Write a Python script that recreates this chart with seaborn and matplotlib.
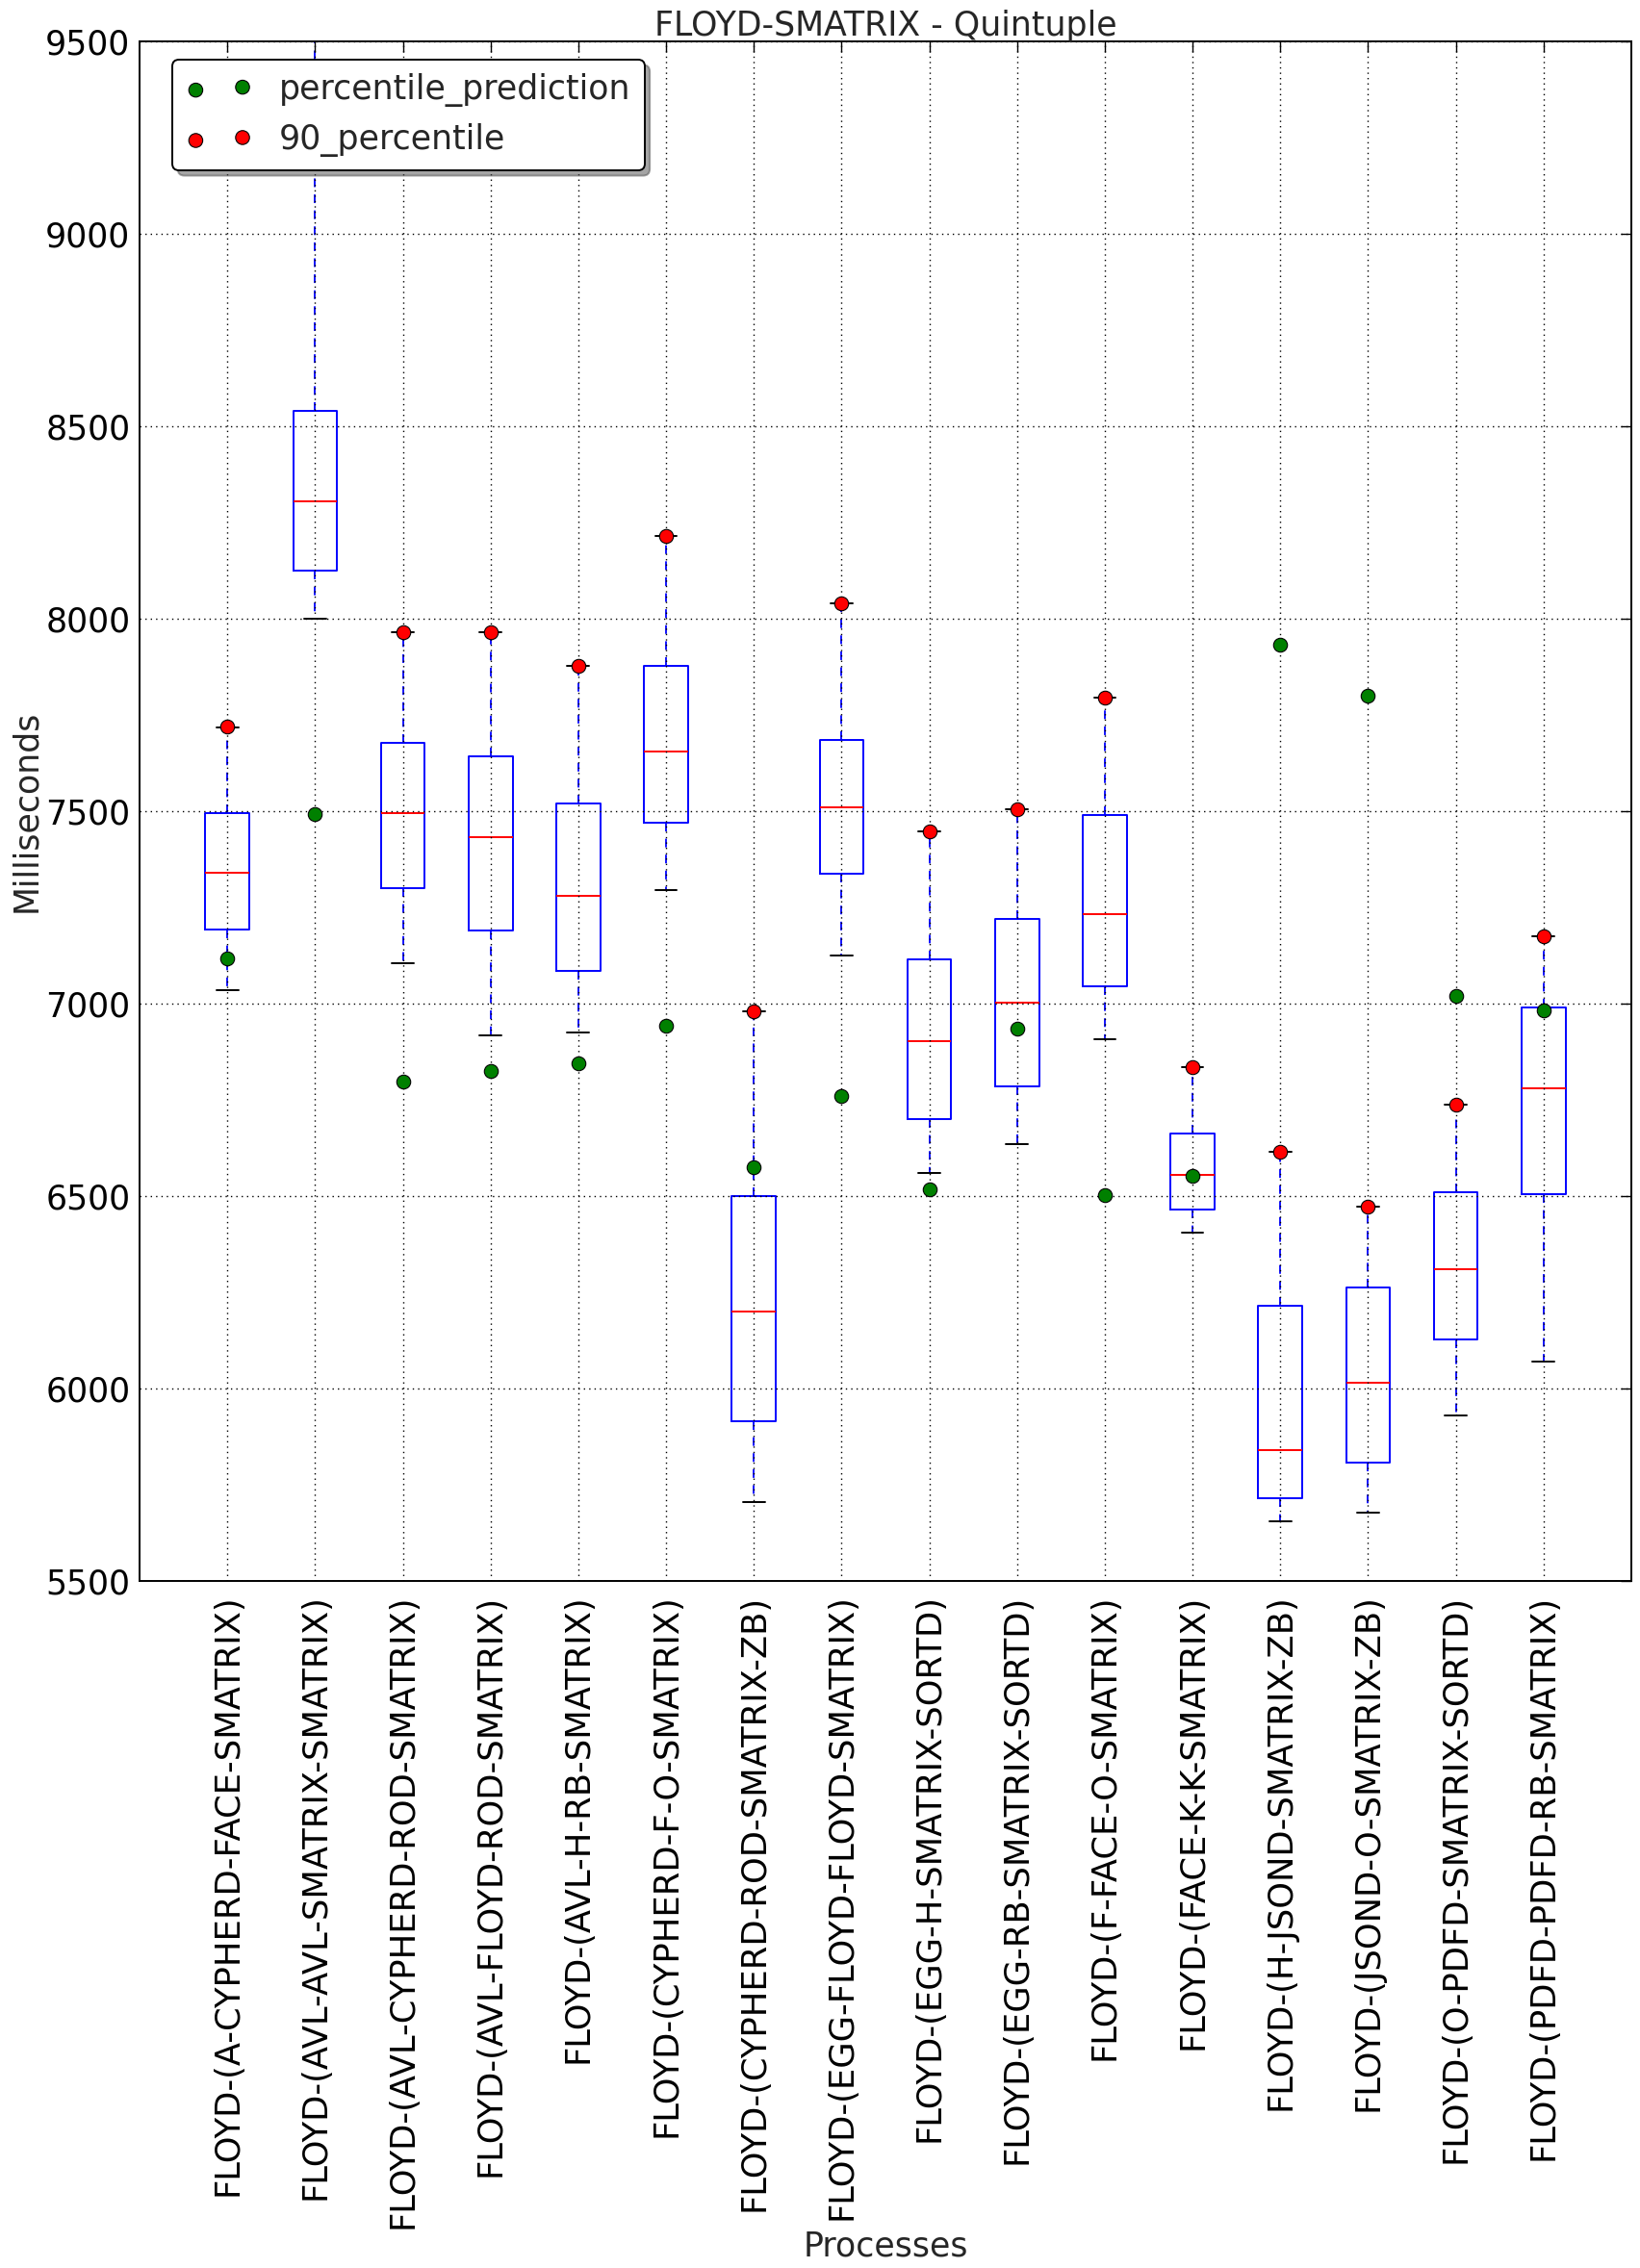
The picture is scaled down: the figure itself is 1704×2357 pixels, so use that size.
import matplotlib
matplotlib.use("Agg")
import matplotlib.pyplot as plt
import seaborn as sns

processes = [
    "FLOYD-(A-CYPHERD-FACE-SMATRIX)",
    "FLOYD-(AVL-AVL-SMATRIX-SMATRIX)",
    "FLOYD-(AVL-CYPHERD-ROD-SMATRIX)",
    "FLOYD-(AVL-FLOYD-ROD-SMATRIX)",
    "FLOYD-(AVL-H-RB-SMATRIX)",
    "FLOYD-(CYPHERD-F-O-SMATRIX)",
    "FLOYD-(CYPHERD-ROD-SMATRIX-ZB)",
    "FLOYD-(EGG-FLOYD-FLOYD-SMATRIX)",
    "FLOYD-(EGG-H-SMATRIX-SORTD)",
    "FLOYD-(EGG-RB-SMATRIX-SORTD)",
    "FLOYD-(F-FACE-O-SMATRIX)",
    "FLOYD-(FACE-K-K-SMATRIX)",
    "FLOYD-(H-JSOND-SMATRIX-ZB)",
    "FLOYD-(JSOND-O-SMATRIX-ZB)",
    "FLOYD-(O-PDFD-SMATRIX-SORTD)",
    "FLOYD-(PDFD-PDFD-RB-SMATRIX)",
]
whisker_low = [7035, 8000, 7104, 6916, 6924, 7293, 5704, 7123, 6558, 6635, 6907, 6405, 5655, 5677, 5929, 6068]
q1 = [7191, 8123, 7298, 7189, 7084, 7468, 5914, 7336, 6698, 6785, 7043, 6465, 5713, 5807, 6127, 6505]
median = [7340, 8304, 7493, 7431, 7278, 7655, 6198, 7510, 6901, 7002, 7232, 6555, 5838, 6014, 6309, 6778]
q3 = [7495, 8538, 7677, 7641, 7520, 7877, 6500, 7684, 7113, 7218, 7490, 6662, 6213, 6262, 6508, 6990]
whisker_high = [7717, 9800, 7964, 7964, 7876, 8215, 6979, 8040, 7446, 7504, 7795, 6833, 6614, 6471, 6737, 7173]
percentile_prediction = [7117, 7492, 6797, 6823, 6843, 6942, 6573, 6758, 6517, 6933, 6502, 6551, 7931, 7799, 7019, 6982]
percentile_90 = [7720, 9800, 7964, 7964, 7876, 8215, 6979, 8040, 7446, 7504, 7795, 6833, 6614, 6471, 6737, 7173]

FS = 12.5
sns.set_theme(style="white")
plt.rcParams["font.family"] = ["DejaVu Sans"]
plt.rcParams["font.size"] = FS

fig = plt.figure(figsize=(8.52, 11.785), dpi=200)
ax = fig.add_axes([0.0851, 0.3031, 0.9096, 0.6788])

positions = list(range(1, len(processes) + 1))
stats = [
    dict(label=p, whislo=wl, q1=a, med=m, q3=b, whishi=wh, fliers=[])
    for p, wl, a, m, b, wh in zip(processes, whisker_low, q1, median, q3, whisker_high)
]
ax.bxp(
    stats,
    positions=positions,
    widths=0.5,
    showfliers=False,
    boxprops=dict(color="blue", linewidth=0.7),
    medianprops=dict(color="red", linewidth=0.7),
    whiskerprops=dict(color="blue", linestyle=(0, (5.0, 4.2)), linewidth=0.65),
    capprops=dict(color="black", linewidth=0.7),
)

sns.scatterplot(x=positions, y=percentile_prediction, color="green", edgecolor="black",
                linewidth=0.4, s=27, label="percentile_prediction", ax=ax, zorder=3)
sns.scatterplot(x=positions, y=percentile_90, color="red", edgecolor="black",
                linewidth=0.4, s=27, label="90_percentile", ax=ax, zorder=3)

ax.set_xlim(0, 17)
ax.set_ylim(5500, 9500)
ax.set_yticks(range(5500, 9501, 500))
ax.set_xticks(positions)
ax.set_xticklabels(processes, rotation=90, fontsize=12.7)
ax.set_axisbelow(False)
ax.grid(True, linestyle=(0, (1, 3)), color="black", linewidth=0.5, zorder=4)
ax.tick_params(direction="in", top=True, right=True, length=4, width=0.5,
               colors="black")
ax.tick_params(axis="y", pad=3.5, labelsize=FS)
ax.tick_params(axis="x", pad=5)
for sp in ax.spines.values():
    sp.set_color("black")
    sp.set_linewidth(0.7)

ax.set_title("FLOYD-SMATRIX - Quintuple", fontsize=FS, pad=2.2)
ax.set_xlabel("Processes", fontsize=FS, labelpad=0.5)
ax.set_ylabel("Milliseconds", fontsize=FS, labelpad=1)

leg = ax.legend(scatterpoints=2, loc="upper left", bbox_to_anchor=(0.022, 0.988),
                borderaxespad=0, shadow=True, fancybox=True, framealpha=1,
                edgecolor="black", fontsize=FS)
leg.get_frame().set_linewidth(0.7)

fig.savefig("out.png", dpi=200)
